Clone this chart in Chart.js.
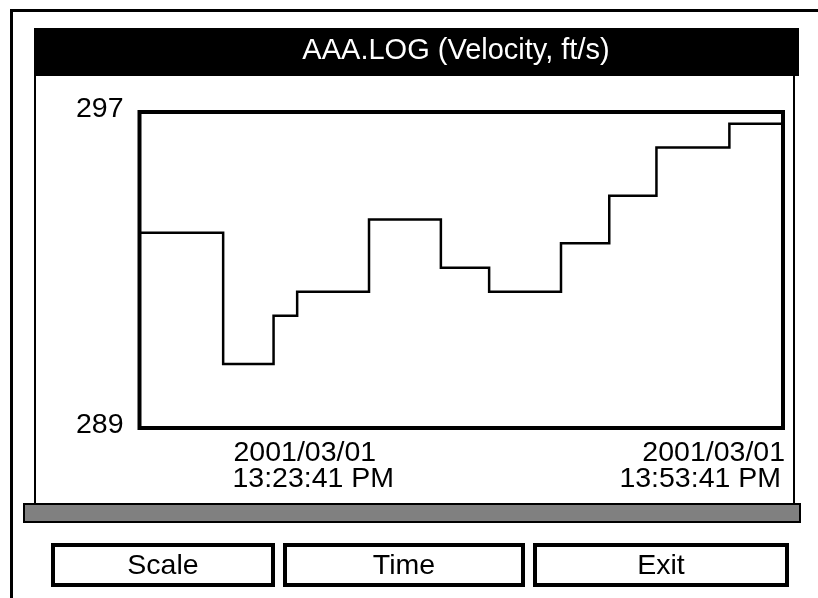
<!DOCTYPE html>
<html>
<head>
<meta charset="utf-8">
<title>AAA.LOG</title>
<script src="https://cdn.jsdelivr.net/npm/chart.js@4.4.0/dist/chart.umd.min.js"></script>
<style>
    html, body { margin: 0; padding: 0; background: #fff; }
    canvas { display: block; }
</style>
</head>
<body>
<canvas id="logChart" width="818" height="598"></canvas>
<script>
//minutos desde el inicio del registro (13:23:41) en que cambia la lectura
var tiempos = [0, 3.9, 6.25, 7.35, 10.7, 14.05, 16.3, 19.65, 21.9, 24.1, 27.5, 30];
//velocidad en ft/s de cada tramo (el último punto solo cierra la línea)
var velocidad = [293.94, 290.62, 291.84, 292.45, 294.28, 293.06, 292.45, 293.68, 294.88, 296.1, 296.7, 296.7];
//límites del eje Y que muestra el equipo
var ejeY = [289, 297];
//fecha y hora de inicio y fin del registro
var etiquetaInicio = ["2001/03/01", "13:23:41 PM"];
var etiquetaFin = ["2001/03/01", "13:53:41 PM"];
var titulo = "AAA.LOG (Velocity, ft/s)";
var botones = ["Scale", "Time", "Exit"];

var fuente = "'Liberation Sans', Arial, Helvetica, sans-serif";
Chart.defaults.font.family = fuente;
Chart.defaults.color = '#000';

//se arma el array de puntos {x, y} a partir de tiempos y velocidad
var puntos = [];
for (let i = 0; i < tiempos.length; i++) {
    puntos.push({x: tiempos[i], y: velocidad[i]});
}

//plugin que dibuja la pantalla del equipo: marco, título, barra gris y botones
var pantalla = {
    id: 'pantalla',
    beforeDraw: function(chart) {
        var c = chart.ctx;
        c.save();
        c.fillStyle = '#fff';
        c.fillRect(0, 0, chart.width, chart.height);

        c.fillStyle = '#000';
        //marco exterior (arriba e izquierda)
        c.fillRect(10, 9, 808, 3);
        c.fillRect(10, 9, 3, 589);
        //barra negra del título
        c.fillRect(34, 28, 765, 48);
        //costados del panel
        c.fillRect(34, 76, 2, 428);
        c.fillRect(793, 76, 2, 428);
        //barra gris con borde
        c.fillRect(23, 503, 778, 20);
        c.fillStyle = '#808080';
        c.fillRect(25, 505, 774, 16);

        //título en blanco
        c.font = '29px ' + fuente;
        c.fillStyle = '#fff';
        c.textAlign = 'center';
        c.textBaseline = 'alphabetic';
        c.fillText(titulo, 456, 59);

        //botones de abajo
        var cajas = [[51, 275], [283, 525], [533, 789]];
        c.strokeStyle = '#000';
        c.fillStyle = '#000';
        c.lineWidth = 4;
        c.font = '28.5px ' + fuente;
        for (let i = 0; i < cajas.length; i++) {
            var x0 = cajas[i][0];
            var x1 = cajas[i][1];
            c.strokeRect(x0 + 2, 545, x1 - x0 - 4, 40);
            c.fillText(botones[i], (x0 + x1) / 2, 574);
        }
        c.restore();
    },
    afterDatasetsDraw: function(chart) {
        var c = chart.ctx;
        var a = chart.chartArea;
        c.save();
        //recuadro del gráfico
        c.strokeStyle = '#000';
        c.lineWidth = 4;
        c.strokeRect(a.left, a.top, a.right - a.left, a.bottom - a.top);

        //fecha/hora de inicio (izquierda) y fin (derecha) bajo el gráfico
        c.fillStyle = '#000';
        c.font = '28.5px ' + fuente;
        c.textBaseline = 'alphabetic';
        c.textAlign = 'left';
        c.fillText(etiquetaInicio[0], a.left + 94, a.bottom + 33);
        c.fillText(etiquetaInicio[1], a.left + 93, a.bottom + 59);
        c.textAlign = 'right';
        c.fillText(etiquetaFin[0], a.right + 2, a.bottom + 33);
        c.fillText(etiquetaFin[1], a.right - 2, a.bottom + 59);
        c.restore();
    }
};

const ctx = document.getElementById('logChart');

var grafico = new Chart(ctx, {
    type: 'line',
    data: {
        datasets: [{
            label: 'Velocity',
            data: puntos,
            stepped: 'before',
            borderColor: '#000',
            borderWidth: 2.5,
            borderJoinStyle: 'miter',
            pointRadius: 0,
            fill: false
        }]
    },
    options: {
        responsive: false,
        animation: false,
        devicePixelRatio: 1,
        layout: {
            padding: {left: 39.5, top: 112, right: 35, bottom: 170}
        },
        plugins: {
            legend: {display: false},
            tooltip: {enabled: false}
        },
        scales: {
            x: {
                type: 'linear',
                min: tiempos[0],
                max: tiempos[tiempos.length - 1],
                display: false
            },
            y: {
                min: ejeY[0],
                max: ejeY[1],
                //solo se muestran el mínimo y el máximo
                afterBuildTicks: function(scale) {
                    scale.ticks = ejeY.map(function(v) { return {value: v}; });
                },
                afterFit: function(scale) {
                    scale.width = 100;
                },
                grid: {display: false, drawTicks: false},
                border: {display: false},
                ticks: {
                    color: '#000',
                    font: {size: 28.5},
                    padding: 16,
                    labelOffset: -3,
                    callback: function(v) { return v; }
                }
            }
        }
    },
    plugins: [pantalla]
});
</script>
</body>
</html>
